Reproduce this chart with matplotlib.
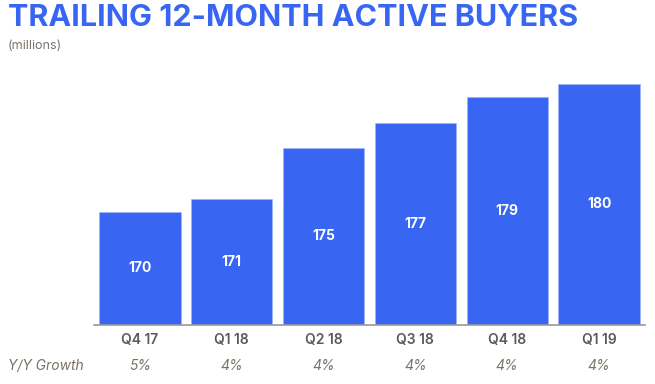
import matplotlib.pyplot as plt

# Datos del gráfico
quarters = ["Q4 17", "Q1 18", "Q2 18", "Q3 18", "Q4 18", "Q1 19"]
buyers = [170, 171, 175, 177, 179, 180]
growth = ["5%", "4%", "4%", "4%", "4%", "4%"]

blue = "#3866f2"
gray = "#7a7268"

plt.rcParams["font.family"] = ["Inter", "DejaVu Sans"]

fig = plt.figure(figsize=(6.55, 3.84), dpi=100)
ax = fig.add_axes([94 / 655, 1 - 324.7 / 384, 551 / 655, 264.7 / 384])

x = range(len(quarters))
bars = ax.bar(x, buyers, width=0.885, color=blue, edgecolor="#9fb4fa", linewidth=0.4)

ax.set_xlim(-0.5, 5.5)
ax.set_ylim(161.2, 181.9)

# etiquetas dentro de las barras, centradas verticalmente
for xi, v in zip(x, buyers):
    ax.text(xi, (161.2 + v) / 2, str(v), ha="center", va="center",
            color="white", fontsize=10, fontweight="bold")

ax.set_xticks(list(x))
ax.set_xticklabels(quarters, fontsize=10, color="#5a5a5a", fontweight="semibold")
ax.tick_params(axis="x", length=0, pad=6)
ax.set_yticks([])
for s in ["top", "right", "left"]:
    ax.spines[s].set_visible(False)
ax.spines["bottom"].set_color("#9a9a9a")
ax.spines["bottom"].set_linewidth(1.2)

# fila de crecimiento interanual
for xi, g in zip(x, growth):
    ax.text(xi, -0.155, g, transform=ax.get_xaxis_transform(), ha="center",
            va="center", fontsize=10, style="italic", color=gray)
fig.text(8 / 655, 1 - 366 / 384, "Y/Y Growth", ha="left", va="center",
         fontsize=10, style="italic", color=gray)

fig.text(8 / 655, 1 - 18 / 384, "TRAILING 12-MONTH ACTIVE BUYERS", ha="left",
         va="center", fontsize=22, fontweight="bold", color=blue)
fig.text(8 / 655, 1 - 46 / 384, "(millions)", ha="left", va="center",
         fontsize=9, color=gray)

fig.savefig("out.png", dpi=100)
